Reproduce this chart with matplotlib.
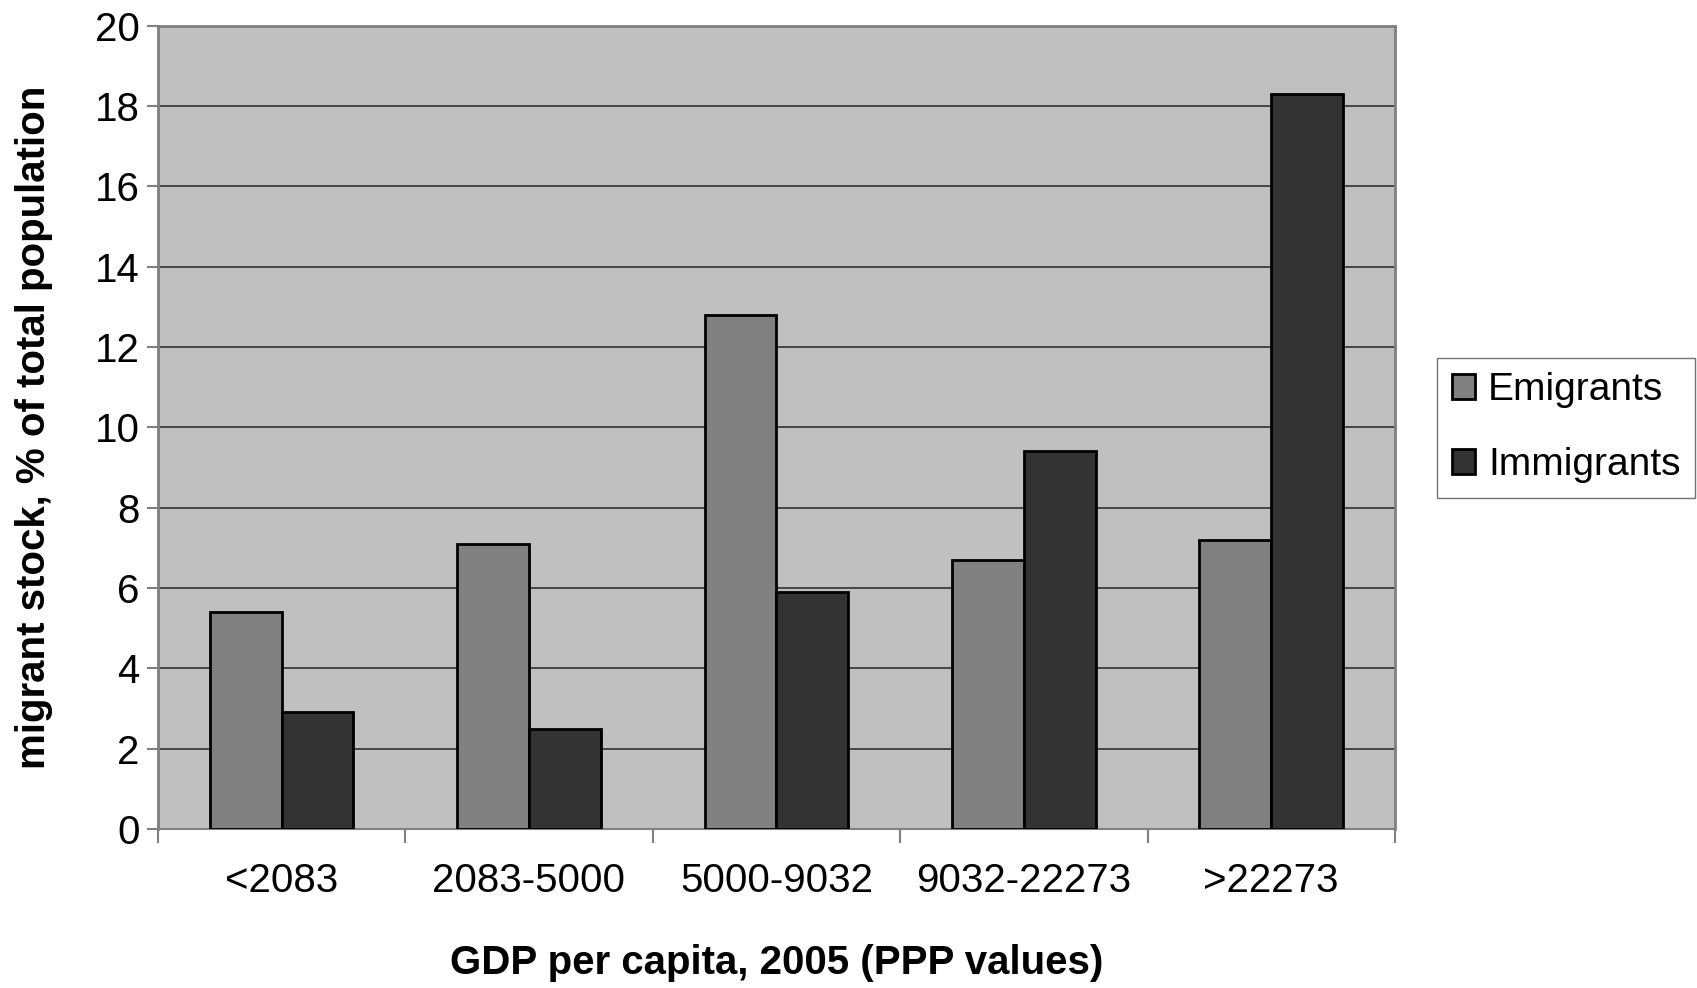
import numpy as np
import matplotlib
matplotlib.use("Agg")
from matplotlib import pyplot as plt

plt.rcParams['font.family'] = ['Liberation Sans', 'DejaVu Sans']

categories = ['<2083', '2083-5000', '5000-9032', '9032-22273', '>22273']
emigrants = [5.4, 7.1, 12.8, 6.7, 7.2]
immigrants = [2.9, 2.5, 5.9, 9.4, 18.3]

fig = plt.figure(figsize=(16.97, 9.88), dpi=100)
ax = fig.add_axes([0.093, 0.161, 0.729, 0.813])
ax.set_facecolor('#c0c0c0')

x = np.arange(len(categories))
w = 0.29
ax.bar(x - w/2, emigrants, w, color='#808080', edgecolor='black', linewidth=2, label='Emigrants', zorder=3)
ax.bar(x + w/2, immigrants, w, color='#333333', edgecolor='black', linewidth=2, label='Immigrants', zorder=3)

ax.set_xlim(-0.5, len(categories) - 0.5)
ax.set_ylim(0, 20)
ax.set_yticks(range(0, 21, 2))
ax.yaxis.grid(True, color='#303030', linewidth=1.2, zorder=1)
ax.set_axisbelow(True)

# ticks between the groups, names in the middle
ax.set_xticks(np.arange(-0.5, len(categories)))
ax.set_xticklabels([])
ax.set_xticks(x, minor=True)
ax.set_xticklabels(categories, minor=True, fontsize=29)
ax.tick_params(axis='x', which='minor', length=0, pad=24)
ax.tick_params(axis='x', which='major', length=10, color='#808080', width=1.5)
ax.tick_params(axis='y', length=8, color='#808080', width=1.5, labelsize=29, pad=5)

for s in ['left', 'top', 'right']:
    ax.spines[s].set_color('#808080')
    ax.spines[s].set_linewidth(2)
ax.spines['bottom'].set_color('#808080')
ax.spines['bottom'].set_linewidth(1.5)

ax.set_ylabel('migrant stock, % of total population', fontsize=29, fontweight='bold', va='center')
ax.yaxis.set_label_coords(-0.100, 0.5)
ax.set_xlabel('GDP per capita, 2005 (PPP values)', fontsize=29, fontweight='bold', va='center')
ax.xaxis.set_label_coords(0.5, -0.1675)

leg = fig.legend(loc='upper left', bbox_to_anchor=(0.847, 0.638), fontsize=28,
                 frameon=True, fancybox=False, edgecolor='#505050',
                 handlelength=0.6, handleheight=0.6, handletextpad=0.32,
                 labelspacing=1.0, borderpad=0.38, borderaxespad=0)
leg.get_frame().set_linewidth(1)

fig.savefig('out.png', dpi=100)
